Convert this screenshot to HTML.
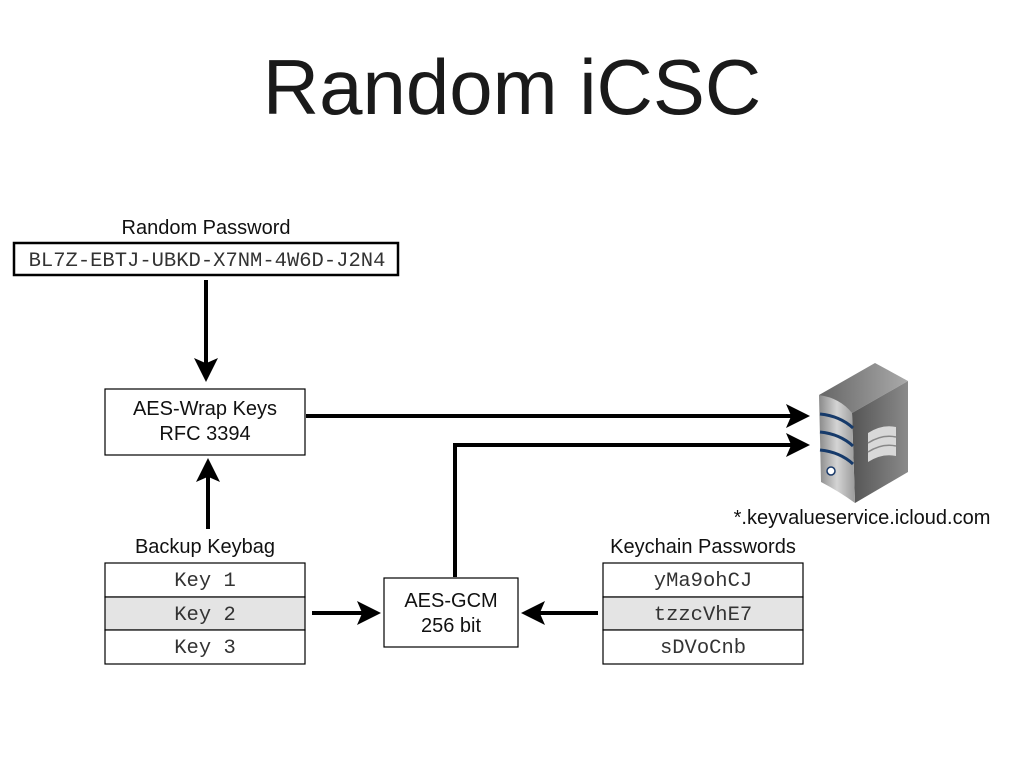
<!DOCTYPE html>
<html><head><style>
body{margin:0;background:#fff;}
svg{display:block;font-family:"Liberation Sans",sans-serif;}
.m{font-family:"Liberation Mono",monospace;font-size:20.5px;fill:#333;}
.s{font-size:20px;fill:#111;}
</style></head><body>
<svg width="1024" height="768" viewBox="0 0 1024 768">
<defs>
<marker id="a" markerWidth="6" markerHeight="6" refX="5" refY="3" orient="auto" markerUnits="strokeWidth">
<path d="M0,0 L6,3 L0,6 L1.3,3 z" fill="#000"/></marker>
<linearGradient id="fr" x1="0" x2="1"><stop offset="0" stop-color="#8a8a8a"/><stop offset=".5" stop-color="#d4d4d4"/><stop offset="1" stop-color="#9a9a9a"/></linearGradient>
<linearGradient id="sd" x1="0" x2="1"><stop offset="0" stop-color="#555"/><stop offset="1" stop-color="#8a8a8a"/></linearGradient>
<linearGradient id="tp" x1="0" x2="1"><stop offset="0" stop-color="#666"/><stop offset="1" stop-color="#aaa"/></linearGradient>
</defs>
<text x="512" y="114" text-anchor="middle" font-size="78" fill="#1a1a1a">Random iCSC</text>

<text x="206" y="234" text-anchor="middle" class="s">Random Password</text>
<rect x="14" y="243" width="384" height="32" fill="#fff" stroke="#000" stroke-width="2.5"/>
<text x="207" y="266" text-anchor="middle" class="m">BL7Z-EBTJ-UBKD-X7NM-4W6D-J2N4</text>

<line x1="206" y1="280" x2="206" y2="378" stroke="#000" stroke-width="4" marker-end="url(#a)"/>

<rect x="105" y="389" width="200" height="66" fill="#fff" stroke="#000" stroke-width="1.2"/>
<text x="205" y="415" text-anchor="middle" class="s">AES-Wrap Keys</text>
<text x="205" y="440" text-anchor="middle" class="s">RFC 3394</text>

<line x1="208" y1="529" x2="208" y2="462" stroke="#000" stroke-width="4" marker-end="url(#a)"/>
<line x1="306" y1="416" x2="806" y2="416" stroke="#000" stroke-width="4" marker-end="url(#a)"/>
<polyline points="455,577 455,445 806,445" fill="none" stroke="#000" stroke-width="4" marker-end="url(#a)"/>

<text x="205" y="553" text-anchor="middle" class="s">Backup Keybag</text>
<rect x="105" y="563" width="200" height="34" fill="#fff" stroke="#000" stroke-width="1.2"/>
<rect x="105" y="597" width="200" height="33" fill="#e4e4e4" stroke="#000" stroke-width="1.2"/>
<rect x="105" y="630" width="200" height="34" fill="#fff" stroke="#000" stroke-width="1.2"/>
<text x="205" y="586" text-anchor="middle" class="m">Key 1</text>
<text x="205" y="620" text-anchor="middle" class="m">Key 2</text>
<text x="205" y="653" text-anchor="middle" class="m">Key 3</text>

<text x="703" y="553" text-anchor="middle" class="s">Keychain Passwords</text>
<rect x="603" y="563" width="200" height="34" fill="#fff" stroke="#000" stroke-width="1.2"/>
<rect x="603" y="597" width="200" height="33" fill="#e4e4e4" stroke="#000" stroke-width="1.2"/>
<rect x="603" y="630" width="200" height="34" fill="#fff" stroke="#000" stroke-width="1.2"/>
<text x="703" y="586" text-anchor="middle" class="m">yMa9ohCJ</text>
<text x="703" y="620" text-anchor="middle" class="m">tzzcVhE7</text>
<text x="703" y="653" text-anchor="middle" class="m">sDVoCnb</text>

<rect x="384" y="578" width="134" height="69" fill="#fff" stroke="#000" stroke-width="1.2"/>
<text x="451" y="607" text-anchor="middle" class="s">AES-GCM</text>
<text x="451" y="632" text-anchor="middle" class="s">256 bit</text>

<line x1="312" y1="613" x2="377" y2="613" stroke="#000" stroke-width="4" marker-end="url(#a)"/>
<line x1="598" y1="613" x2="525" y2="613" stroke="#000" stroke-width="4" marker-end="url(#a)"/>

<!-- server -->
<polygon points="819,395 875,363 908,381 852,413" fill="url(#tp)"/>
<polygon points="852,413 908,381 908,472 855,503" fill="url(#sd)"/>
<path d="M819,395 Q840,398 852,413 L855,503 Q840,492 821,482 Z" fill="url(#fr)"/>
<path d="M820,414 Q840,416 853,428 M820,432 Q840,434 853,446 M820,450 Q840,452 853,464" stroke="#163a6a" stroke-width="3" fill="none"/>
<circle cx="831" cy="471" r="4" fill="#fff" stroke="#1a3a6a" stroke-width="1.5"/>
<path d="M868,433 Q882,424 896,427 L896,456 Q882,453 868,462 Z" fill="#d8d8d8"/>
<path d="M868,443 Q882,434 896,437 M868,452 Q882,443 896,446" stroke="#888" stroke-width="1.5" fill="none"/>

<text x="862" y="524" text-anchor="middle" class="s">*.keyvalueservice.icloud.com</text>
</svg>
</body></html>
